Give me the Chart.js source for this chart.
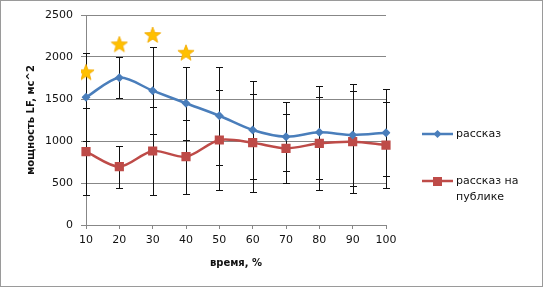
<!DOCTYPE html>
<html>
<head>
<meta charset="utf-8">
<script src="https://cdn.jsdelivr.net/npm/chart.js@4/dist/chart.umd.min.js"></script>
<style>
body { margin: 0; background: #fff; }
</style>
</head>
<body>
<canvas id="chart" width="543" height="287"></canvas>
<script>
const times = ['10', '20', '30', '40', '50', '60', '70', '80', '90', '100'];
const story = [1520, 1754, 1599, 1449, 1301, 1131, 1051, 1103, 1071, 1099];
const storyErr = [522, 248, 516, 437, 584, 585, 410, 556, 606, 515];
const publicStory = [873, 694, 881, 813, 1012, 980, 913, 972, 992, 952];
const publicErr = [520, 248, 520, 440, 592, 585, 410, 556, 609, 516];
const stars = [1818, 2151, 2262, 2051, null, null, null, null, null, null];

const blue = '#4a7ebb';
const red = '#be4b48';
const gridGray = '#878787';

// filled star marker
function makeStar() {
    const c = document.createElement('canvas');
    c.width = 18; c.height = 18;
    const g = c.getContext('2d');
    g.beginPath();
    for (let i = 0; i < 10; i++) {
        const r = i % 2 === 0 ? 8.5 : 3.6;
        const a = -Math.PI / 2 + i * Math.PI / 5;
        g.lineTo(9 + r * Math.cos(a), 9.5 + r * Math.sin(a));
    }
    g.closePath();
    g.fillStyle = '#ffc000';
    g.fill();
    g.strokeStyle = '#f0a800';
    g.lineWidth = 0.8;
    g.stroke();
    return c;
}
const starImg = makeStar();

const errorBars = {
    id: 'errorBars',
    beforeDatasetsDraw(chart) {
        const { ctx, scales: { x, y } } = chart;
        ctx.save();
        ctx.strokeStyle = '#111';
        ctx.lineWidth = 1;
        [[story, storyErr], [publicStory, publicErr]].forEach(([vals, errs]) => {
            vals.forEach((v, i) => {
                const px = Math.round(x.getPixelForValue(i)) + 0.5;
                const top = Math.round(y.getPixelForValue(v + errs[i])) + 0.5;
                const bot = Math.round(y.getPixelForValue(v - errs[i])) + 0.5;
                ctx.beginPath();
                ctx.moveTo(px, top); ctx.lineTo(px, bot);
                ctx.moveTo(px - 3.5, top); ctx.lineTo(px + 3.5, top);
                ctx.moveTo(px - 3.5, bot); ctx.lineTo(px + 3.5, bot);
                ctx.stroke();
            });
        });
        ctx.restore();
    }
};

const sideLegend = {
    id: 'sideLegend',
    afterDraw(chart) {
        const ctx = chart.ctx;
        ctx.save();
        ctx.font = '11px "DejaVu Sans"';
        ctx.fillStyle = '#111';
        ctx.textBaseline = 'middle';
        // рассказ
        ctx.strokeStyle = blue; ctx.lineWidth = 2.5;
        ctx.beginPath(); ctx.moveTo(422, 134); ctx.lineTo(453, 134); ctx.stroke();
        ctx.fillStyle = blue;
        ctx.beginPath(); ctx.moveTo(437.5, 130); ctx.lineTo(441.5, 134); ctx.lineTo(437.5, 138); ctx.lineTo(433.5, 134); ctx.closePath(); ctx.fill();
        ctx.fillStyle = '#111';
        ctx.fillText('рассказ', 456, 134);
        // рассказ на публике
        ctx.strokeStyle = red;
        ctx.beginPath(); ctx.moveTo(422, 181); ctx.lineTo(453, 181); ctx.stroke();
        ctx.fillStyle = red;
        ctx.fillRect(433, 177, 9, 9);
        ctx.fillStyle = '#111';
        ctx.fillText('рассказ на', 456, 181);
        ctx.fillText('публике', 456, 197);
        // outer border
        ctx.strokeStyle = '#9a9a9a'; ctx.lineWidth = 1;
        ctx.strokeRect(0.5, 0.5, 542, 286);
        ctx.restore();
    }
};

const ctx = document.getElementById('chart').getContext('2d');
const myChart = new Chart(ctx, {
    type: 'line',
    data: {
        labels: times,
        datasets: [
            {
                label: 'рассказ',
                data: story,
                borderColor: blue,
                backgroundColor: blue,
                borderWidth: 2.5,
                pointStyle: 'rectRot',
                pointRadius: 4.5,
                pointBorderWidth: 0,
                tension: 0.3
            },
            {
                label: 'рассказ на публике',
                data: publicStory,
                borderColor: red,
                backgroundColor: red,
                borderWidth: 2.5,
                pointStyle: 'rect',
                pointRadius: 6.5,
                pointBorderWidth: 0,
                tension: 0.3
            },
            {
                label: 'stars',
                data: stars,
                showLine: false,
                pointStyle: starImg
            }
        ]
    },
    options: {
        responsive: false,
        animation: false,
        layout: { padding: { left: 0, top: 15, right: 157, bottom: 0 } },
        plugins: {
            legend: { display: false },
            tooltip: { enabled: false }
        },
        scales: {
            x: {
                offset: false,
                grid: { drawOnChartArea: false, color: gridGray, tickLength: 4 },
                border: { color: gridGray },
                ticks: { font: { family: 'DejaVu Sans', size: 11 }, color: '#111', padding: 5, maxRotation: 0 },
                title: {
                    display: true, text: 'время, %', color: '#111',
                    font: { family: 'DejaVu Sans', size: 10, weight: 'bold' },
                    padding: { top: 0, bottom: 18 }
                },
                afterFit(scale) { scale.height = 62; }
            },
            y: {
                min: 0, max: 2500,
                ticks: {
                    stepSize: 500, font: { family: 'DejaVu Sans', size: 11 }, color: '#111', padding: 8,
                    callback: (v) => String(v)
                },
                grid: { color: gridGray, tickLength: 5 },
                border: { color: gridGray },
                title: {
                    display: true, text: 'мощность LF, мс^2', color: '#111',
                    font: { family: 'DejaVu Sans', size: 10, weight: 'bold' },
                    padding: { top: 25, bottom: 0 }
                },
                afterFit(scale) { scale.width = 86; }
            }
        }
    },
    plugins: [errorBars, sideLegend]
});
</script>
</body>
</html>
